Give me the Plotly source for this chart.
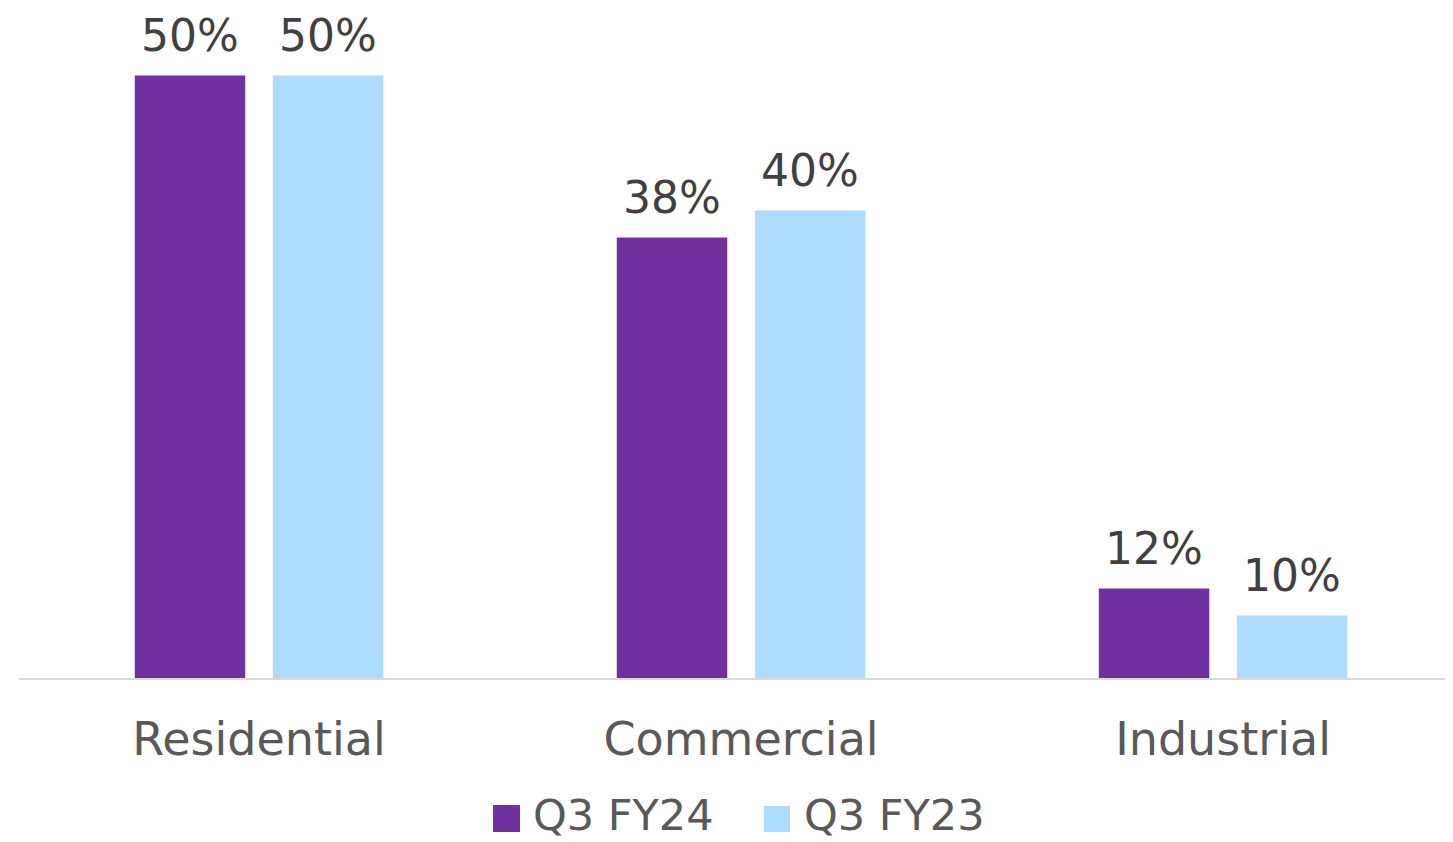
import plotly.graph_objects as go

categories = ["Residential", "Commercial", "Industrial"]
series_names = ["Q3 FY24", "Q3 FY23"]
q3_fy24 = [50, 38, 12]
q3_fy23 = [50, 40, 10]
colors = ["#7030A0", "#ADDCFE"]

OFF = 8  # default page body margin
W, H = 1453 - OFF, 842 - OFF
L, R, T, B = 19 - OFF, 0, 2, 164
FONT = "DejaVu Sans"

fig = go.Figure()
for name, vals, col in zip(series_names, [q3_fy24, q3_fy23], colors):
    fig.add_trace(go.Bar(
        name=name, x=categories, y=vals, marker=dict(color=col, line=dict(width=0)),
        showlegend=False, offsetgroup=name,
    ))

# data labels via annotations above each bar
half = 0.1432
for i, cat in enumerate(categories):
    for j, vals in enumerate([q3_fy24, q3_fy23]):
        fig.add_annotation(
            x=i + (-half if j == 0 else half), y=vals[i], xref="x", yref="y",
            text=f"{vals[i]}%", showarrow=False, yanchor="bottom", yshift=12,
            font=dict(family=FONT, size=44, color="#404040"),
        )

# manual legend (positions in reference pixels)
pw, ph = W - L - R, H - T - B
def px(x):
    return (x - OFF - L) / pw
def py(y):
    return (H - B - (y - OFF)) / ph

leg = [(493, 520, 805, 832, 532), (764, 790, 806, 832, 803)]
for (x0, x1, y0, y1, tx), col, name in zip(leg, colors, series_names):
    fig.add_shape(type="rect", xref="paper", yref="paper",
                  x0=px(x0), x1=px(x1), y0=py(y1), y1=py(y0),
                  fillcolor=col, line=dict(width=0))
    fig.add_annotation(xref="paper", yref="paper", x=px(tx), y=py(815),
                       text=name, showarrow=False, xanchor="left", yanchor="middle",
                       borderpad=0,
                       font=dict(family=FONT, size=43, color="#595959"))

fig.update_layout(
    width=W, height=H,
    margin=dict(l=L, r=R, t=T, b=B),
    plot_bgcolor="white", paper_bgcolor="white",
    barmode="group", bargap=0.427, bargroupgap=0.2,
    showlegend=False,
    font=dict(family=FONT, color="#595959"),
)
fig.update_xaxes(
    type="category", range=[-0.498, 2.477],
    showline=True, linecolor="#D9D9D9", linewidth=2,
    ticks="outside", ticklen=20, tickcolor="rgba(0,0,0,0)",
    tickfont=dict(family=FONT, size=46, color="#595959"),
    showgrid=False, zeroline=False,
)
fig.update_yaxes(range=[5.37, 54.85], visible=False, showgrid=False, zeroline=False)

fig.write_html("out.html")
